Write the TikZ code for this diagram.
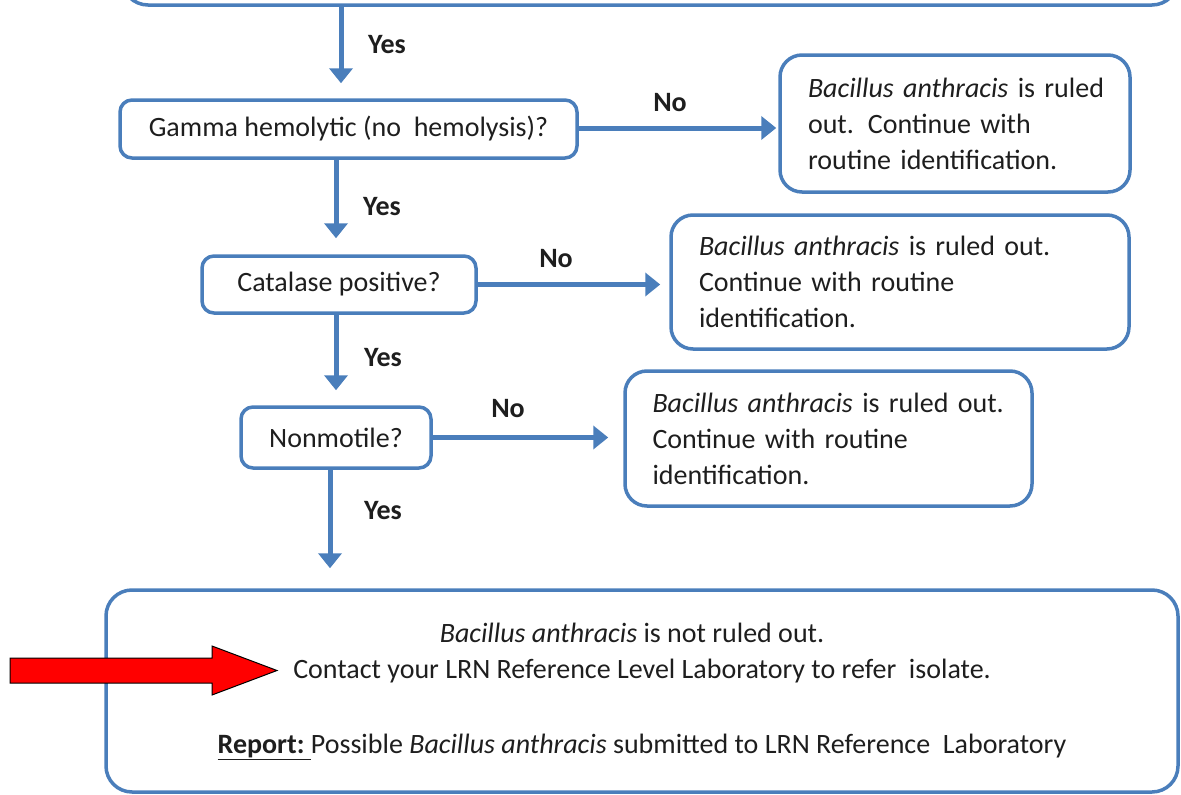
\documentclass[tikz,border=0pt]{standalone}
\usepackage{fontspec}
\setmainfont{Carlito}
\usetikzlibrary{arrows.meta}
\definecolor{flowblue}{HTML}{4A7EBB}
\definecolor{ink}{HTML}{1E1E1E}
\begin{document}
\begin{tikzpicture}[x=1pt,y=-1pt,
  every node/.style={text=ink,font=\fontsize{28}{36}\selectfont},
  box/.style={draw=flowblue,line width=3.5pt,rounded corners=12pt,inner sep=0pt},
  bigbox/.style={box,rounded corners=26pt},
  outbox/.style={box,rounded corners=22pt,align=left},
  arr/.style={draw=flowblue,line width=5pt,-{Triangle[width=23pt,length=15pt]}},
  lbl/.style={font=\fontsize{28}{36}\selectfont\bfseries}]
\useasboundingbox (0,0) rectangle (1181,795);
\clip (0,0) rectangle (1181,795);

% decision boxes
\node[bigbox,minimum width=1056pt,minimum height=80pt] (top) at (650,-35) {};
\node[box,minimum width=457pt,minimum height=58pt] (gam) at (348.5,129) {Gamma hemolytic (no\ \ hemolysis)?};
\node[box,minimum width=274pt,minimum height=57pt] (cat) at (339,284.5) {Catalase positive?};
\node[box,minimum width=190pt,minimum height=61pt] (non) at (336,437.5) {Nonmotile?};

% ruled-out outcomes
\node[outbox,minimum width=350pt,minimum height=137pt,text width=294pt] (r1) at (955,123.5)
  {\mbox{\textit{Bacillus anthracis} is ruled}\\out. Continue with\\routine\ identification.};
\node[outbox,minimum width=458pt,minimum height=134pt,text width=402pt] (r2) at (900,282)
  {\textit{Bacillus anthracis} is ruled out.\\Continue with routine\\identification.};
\node[outbox,minimum width=407pt,minimum height=135pt,text width=352pt] (r3) at (828.5,438.5)
  {\textit{Bacillus anthracis} is ruled out.\\Continue with routine\\identification.};

% final outcome
\node[bigbox,minimum width=1072pt,minimum height=202pt,align=center] (bot) at (642,691)
  {\textit{Bacillus anthracis} is not ruled out.\hspace*{20pt}\\
   Contact your LRN Reference Level Laboratory to refer\ \ isolate.\\[39pt]
   \textbf{\underline{Report:\ }}Possible \textit{Bacillus anthracis} submitted to LRN Reference\ \ Laboratory};

% yes branches
\draw[arr,shorten >=15pt] ([xshift=-7.5pt]gam.north |- top.south) -- ([xshift=-7.5pt]gam.north);
\draw[arr,shorten >=16pt] ([xshift=-3pt]cat.north |- gam.south) -- ([xshift=-3pt]cat.north);
\draw[arr,shorten >=15pt] (non.north |- cat.south) -- (non.north);
\draw[arr,shorten >=20pt] ([xshift=-6pt]non.south) -- ([xshift=-6pt]non.south |- bot.north);

% no branches
\draw[arr,shorten >=2pt] ([yshift=1pt]gam.east) -- ([yshift=1pt]gam.east -| r1.west);
\draw[arr,shorten >=9pt] (cat.east) -- (cat.east -| r2.west);
\draw[arr,shorten >=15pt] (non.east) -- (non.east -| r3.west);

% branch labels
\node[lbl] (y1) at (387,45) {Yes};
\node[lbl] (y2) at (382,207) {Yes};
\node[lbl] (y3) at (383,358) {Yes};
\node[lbl] (y4) at (383,511) {Yes};
\node[lbl] (n1) at (670,103) {No};
\node[lbl] (n2) at (556,259) {No};
\node[lbl] (n3) at (508,409) {No};

% red pointer arrow
\draw[fill=red,draw=black,line width=1pt,line join=miter]
  (10,658) -- (212,658) -- (212,646) -- (277,670.5) -- (212,695) -- (212,683) -- (10,683) -- cycle;
\end{tikzpicture}
\end{document}
